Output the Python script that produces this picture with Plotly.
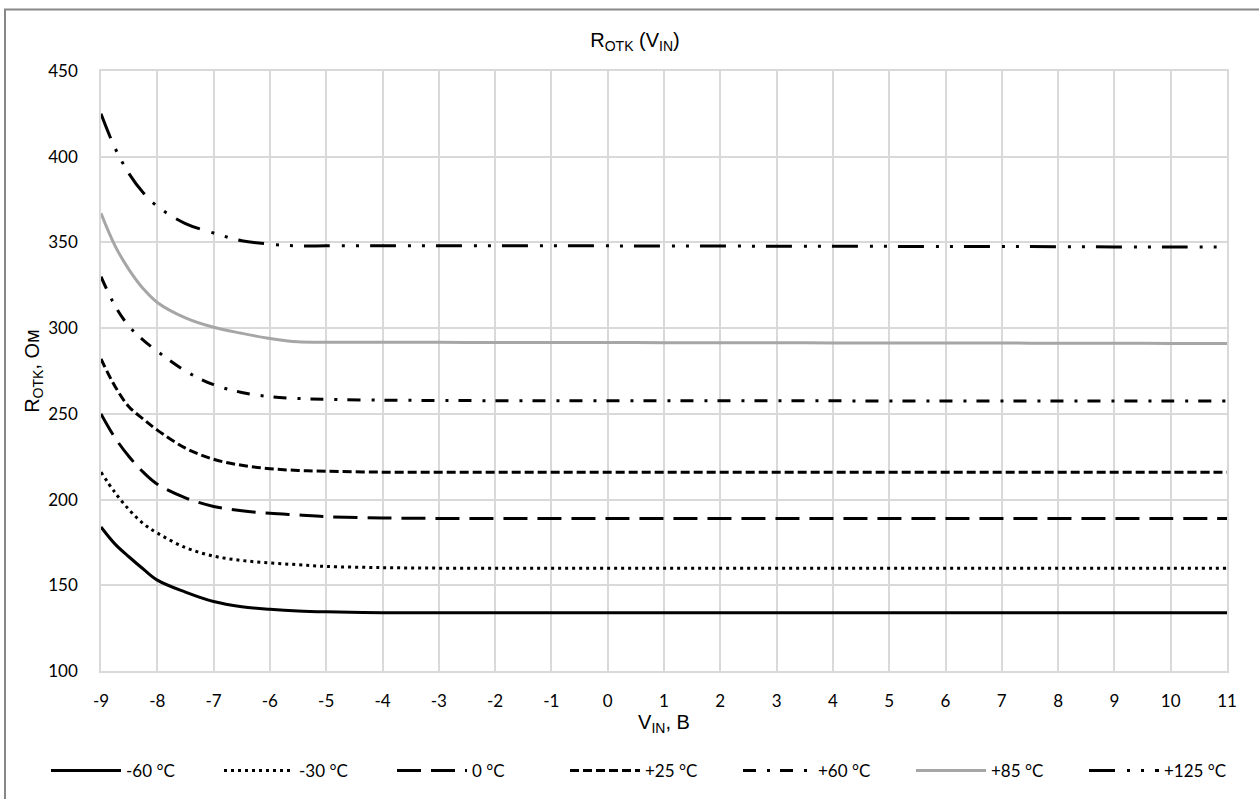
import plotly.graph_objects as go

# Input voltage, V
v_in = [-9, -8.75, -8.5, -8.25, -8, -7.5, -7, -6.5, -6, -5.5, -5,
        -4, -3, -2, -1, 0, 1, 2, 3, 4, 5, 6, 7, 8, 9, 10, 11]

# On-resistance, Ohm, per temperature
r_m60 = [184, 174, 166.5, 159.5, 153, 146, 140.5, 137.5, 136, 135, 134.5,
         134, 134, 134, 134, 134, 134, 134, 134, 134, 134, 134, 134, 134, 134, 134, 134]
r_m30 = [216, 204, 194, 186, 180.5, 172, 167, 164.5, 163, 162, 161,
         160.3, 160, 160, 160, 160, 160, 160, 160, 160, 160, 160, 160, 160, 160, 160, 160]
r_0 = [250, 236, 225, 216, 209, 201, 196, 193.5, 192, 191, 190,
       189.3, 189, 189, 189, 189, 189, 189, 189, 189, 189, 189, 189, 189, 189, 189, 189]
r_25 = [282, 266, 254, 247, 240.5, 230, 223.5, 220, 218, 217, 216.5,
        216, 216, 216, 216, 216, 216, 216, 216, 216, 216, 216, 216, 216, 216, 216, 216]
r_60 = [330, 313, 301, 293, 286.5, 275, 267, 262.5, 260, 259, 258.5,
        258, 257.8, 257.7, 257.7, 257.7, 257.6, 257.6, 257.6, 257.6, 257.5, 257.5, 257.5, 257.5, 257.5, 257.5, 257.5]
r_85 = [367, 348, 334, 323, 315, 306, 300.5, 297, 294, 292, 291.8,
        291.7, 291.7, 291.6, 291.6, 291.6, 291.5, 291.5, 291.5, 291.4, 291.4, 291.3, 291.3, 291.2, 291.2, 291.1, 291]
r_125 = [425, 405, 390, 379, 371, 361, 355.5, 351, 349, 348, 348,
         348, 348, 348, 348, 348, 347.9, 347.9, 347.8, 347.8, 347.7, 347.6, 347.6, 347.5, 347.4, 347.4, 347.3]

labels = ["-60 °C", "-30 °C", "0 °C", "+25 °C", "+60 °C", "+85 °C", "+125 °C"]
series = [r_m60, r_m30, r_0, r_25, r_60, r_85, r_125]

x_ticks = list(range(-9, 12))
y_ticks = [100, 150, 200, 250, 300, 350, 400, 450]

styles = [
    dict(color="#000000", dash="solid"),
    dict(color="#000000", dash="3px,4px"),
    dict(color="#000000", dash="24px,10px"),
    dict(color="#000000", dash="9px,4px"),
    dict(color="#000000", dash="13px,11px,3px,10px"),
    dict(color="#A6A6A6", dash="solid"),
    dict(color="#000000", dash="26px,12px,3px,11px,3px,11px"),
]

fig = go.Figure()
for name, ys, st in zip(labels, series, styles):
    fig.add_trace(go.Scatter(
        x=v_in, y=ys, name=name, mode="lines",
        line=dict(color=st["color"], dash=st["dash"], width=3, shape="spline", smoothing=1.0),
    ))

W, H = 1259, 799
ML, MR, MT, MB = 101, 32, 71, 128
pw, ph = W - ML - MR, H - MT - MB


def px_x(p):
    return (p - ML) / pw


def px_y(p):
    return (H - MB - p) / ph


grid = "#D9D9D9"
tick_font = dict(family="Lato", size=17, color="#000000")
title_font = dict(family="Liberation Sans, Arial", size=20, color="#000000")

fig.update_layout(
    width=W, height=H,
    margin=dict(l=ML, r=MR, t=MT, b=MB, autoexpand=False),
    paper_bgcolor="white", plot_bgcolor="white",
    title=dict(
        text="R<sub>OTK</sub> (V<sub>IN</sub>)",
        font=title_font,
        x=635 / W, xanchor="center", xref="container",
        y=1 - 40 / H, yanchor="middle", yref="container",
    ),
    xaxis=dict(
        range=[-9, 11], tickvals=x_ticks, ticktext=[str(t) for t in x_ticks],
        showgrid=True, gridcolor=grid, gridwidth=1.5,
        showline=True, linecolor=grid, linewidth=1.5, mirror=True,
        zeroline=False, ticks="", tickfont=tick_font, ticklabelstandoff=14,
        title=dict(text="V<sub>IN</sub>, B", standoff=2, font=title_font),
    ),
    yaxis=dict(
        range=[100, 450], tickvals=y_ticks,
        showgrid=True, gridcolor=grid, gridwidth=1.5,
        showline=True, linecolor=grid, linewidth=1.5, mirror=True,
        zeroline=False, ticks="", tickfont=tick_font, ticklabelstandoff=18,
        title=dict(text="R<sub>OTK</sub>, Ом", standoff=3, font=title_font),
    ),
    legend=dict(
        orientation="h", x=px_x(46), xanchor="left", y=px_y(771), yanchor="middle",
        font=dict(family="Lato", size=17, color="#000000"),
        entrywidth=88, entrywidthmode="pixels", itemwidth=70,
        bgcolor="rgba(0,0,0,0)",
    ),
    showlegend=True,
    shapes=[dict(
        type="rect", xref="paper", yref="paper",
        x0=px_x(5), x1=px_x(1266), y0=px_y(9.5), y1=px_y(806),
        line=dict(color="#878787", width=2), fillcolor="rgba(0,0,0,0)", layer="below",
    )],
)

fig.write_html("out.html")
